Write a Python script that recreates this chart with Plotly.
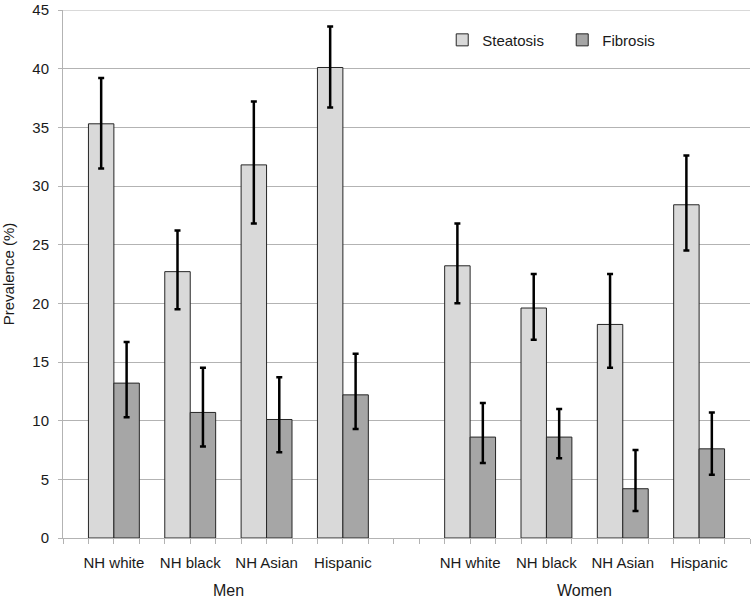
import plotly.graph_objects as go

groups = ["Men", "Women"]
ethnicities = ["NH white", "NH black", "NH Asian", "Hispanic"]

steatosis_men = [35.3, 22.7, 31.8, 40.1]
steatosis_men_hi = [39.2, 26.2, 37.2, 43.6]
steatosis_men_lo = [31.5, 19.5, 26.8, 36.7]
steatosis_women = [23.2, 19.6, 18.2, 28.4]
steatosis_women_hi = [26.8, 22.5, 22.5, 32.6]
steatosis_women_lo = [20.0, 16.9, 14.5, 24.5]

fibrosis_men = [13.2, 10.7, 10.1, 12.2]
fibrosis_men_hi = [16.7, 14.5, 13.7, 15.7]
fibrosis_men_lo = [10.3, 7.8, 7.3, 9.3]
fibrosis_women = [8.6, 8.6, 4.2, 7.6]
fibrosis_women_hi = [11.5, 11.0, 7.5, 10.7]
fibrosis_women_lo = [6.4, 6.8, 2.3, 5.4]

y_ticks = [0, 5, 10, 15, 20, 25, 30, 35, 40, 45]

# slot layout: each category uses 3 slots (steatosis, fibrosis, gap); groups separated by extra slots
group_start = {"Men": 1, "Women": 15}
def slot_left(g, i):
    return group_start[g] + 3 * i

st_x, fb_x, st_y, fb_y = [], [], [], []
st_up, st_dn, fb_up, fb_dn = [], [], [], []
tickvals, ticktext = [], []
data = {
    "Men": (steatosis_men, steatosis_men_hi, steatosis_men_lo, fibrosis_men, fibrosis_men_hi, fibrosis_men_lo),
    "Women": (steatosis_women, steatosis_women_hi, steatosis_women_lo, fibrosis_women, fibrosis_women_hi, fibrosis_women_lo),
}
for g in groups:
    s, sh, sl, f, fh, fl = data[g]
    for i, eth in enumerate(ethnicities):
        left = slot_left(g, i)
        st_x.append(left + 0.5)
        fb_x.append(left + 1.5)
        st_y.append(s[i]); fb_y.append(f[i])
        st_up.append(sh[i] - s[i]); st_dn.append(s[i] - sl[i])
        fb_up.append(fh[i] - f[i]); fb_dn.append(f[i] - fl[i])
        tickvals.append(left + 1)
        ticktext.append(eth)

font_family = "Liberation Sans, Arial, sans-serif"
txt_color = "#1a1a1a"
grid_color = "#b3b3b3"

fig = go.Figure()
fig.add_trace(go.Bar(
    x=st_x, y=st_y, width=1, name="Steatosis",
    marker=dict(color="#d9d9d9", line=dict(color="#262626", width=1)),
    error_y=dict(type="data", array=st_up, arrayminus=st_dn, color="black", thickness=2.5, width=3),
))
fig.add_trace(go.Bar(
    x=fb_x, y=fb_y, width=1, name="Fibrosis",
    marker=dict(color="#a6a6a6", line=dict(color="#262626", width=1)),
    error_y=dict(type="data", array=fb_up, arrayminus=fb_dn, color="black", thickness=2.5, width=3),
))

total_slots = group_start["Women"] + 3 * len(ethnicities)
fig.update_layout(
    width=751, height=600,
    margin=dict(l=63, r=1, t=8, b=62),
    plot_bgcolor="white", paper_bgcolor="white",
    font=dict(family=font_family, size=15, color=txt_color),
    barmode="overlay",
    showlegend=True,
    legend=dict(orientation="h", x=0.552, y=0.943, xanchor="left", yanchor="middle",
                bgcolor="rgba(0,0,0,0)", font=dict(size=15), entrywidth=75, entrywidthmode="pixels"),
    xaxis=dict(range=[0, total_slots], tickvals=tickvals, ticktext=ticktext,
               ticks="outside", ticklen=5, tickcolor=grid_color, showgrid=False,
               showline=True, linecolor=grid_color, linewidth=1, zeroline=False,
               tickfont=dict(size=15), ticklabelstandoff=6,
               minor=dict(tick0=0, dtick=1, ticks="outside", ticklen=5, tickcolor=grid_color, showgrid=False)),
    yaxis=dict(range=[0, 45], tickvals=y_ticks, ticks="outside", ticklen=4, tickcolor=grid_color,
               showgrid=True, gridcolor=grid_color, gridwidth=1, zeroline=False,
               showline=True, linecolor=grid_color, linewidth=1,
               title=dict(text="Prevalence (%)", font=dict(size=15), standoff=15),
               tickfont=dict(size=15), ticklabelstandoff=6, ticklabeloverflow="allow"),
)
# top gridline (plotly drops gridlines lying on the range end)
fig.add_shape(type="line", xref="paper", yref="y", x0=0, x1=1, y0=y_ticks[-1], y1=y_ticks[-1],
              line=dict(color=grid_color, width=1), layer="below")
for g in groups:
    center = group_start[g] - 1 + (3 * len(ethnicities) + 1) / 2
    fig.add_annotation(x=center, y=0, xref="x", yref="paper", yanchor="top", yshift=-42,
                       text=g, showarrow=False, font=dict(size=16, color=txt_color))

fig.write_html("out.html", post_script="document.body.style.margin='0';",
               config={"displayModeBar": False})
